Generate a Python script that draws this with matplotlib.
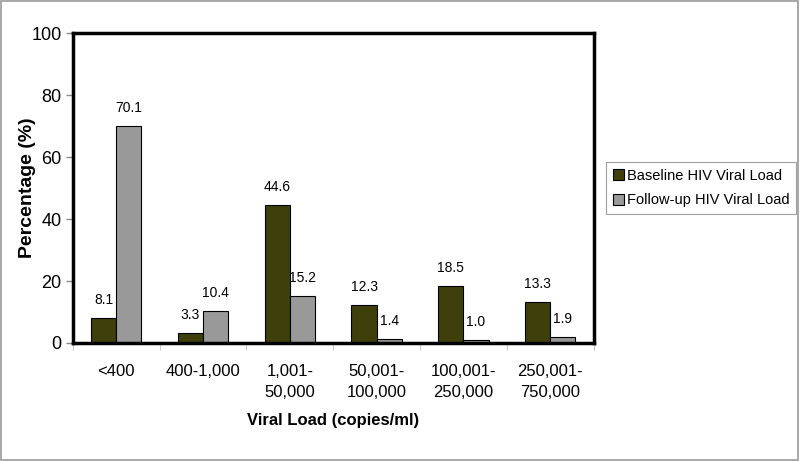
import matplotlib
matplotlib.use("Agg")
import matplotlib.pyplot as plt
import numpy as np

categories = ["<400", "400-1,000", "1,001-\n50,000", "50,001-\n100,000", "100,001-\n250,000", "250,001-\n750,000"]
baseline = [8.1, 3.3, 44.6, 12.3, 18.5, 13.3]
followup = [70.1, 10.4, 15.2, 1.4, 1.0, 1.9]
yticks = [0, 20, 40, 60, 80, 100]

plt.rcParams['font.family'] = ['Liberation Sans', 'DejaVu Sans']

fig = plt.figure(figsize=(8, 4.61), dpi=100)
ax = fig.add_axes([0.091, 0.256, 0.651, 0.672])

x = np.arange(len(categories))
w = 0.29
ax.bar(x - w/2, baseline, w, color="#3f3f0c", edgecolor="black", linewidth=0.8, label="Baseline HIV Viral Load")
ax.bar(x + w/2, followup, w, color="#999999", edgecolor="black", linewidth=0.8, label="Follow-up HIV Viral Load")

for xi, v in zip(x, baseline):
    ax.text(xi - w/2, v + 3.5, f"{v:.1f}", ha="center", va="bottom", fontsize=10)
for xi, v in zip(x, followup):
    ax.text(xi + w/2, v + 3.5, f"{v:.1f}", ha="center", va="bottom", fontsize=10)

ax.set_xlim(-0.5, len(categories) - 0.5)
ax.set_ylim(0, 100)
ax.set_yticks(yticks)
ax.set_yticklabels([str(t) for t in yticks], fontsize=13)
ax.set_xticks(x)
ax.set_xticklabels(categories, fontsize=12, linespacing=1.55)
ax.tick_params(axis="x", length=0, pad=15)
ax.set_xticks(np.arange(len(categories) + 1) - 0.5, minor=True)
ax.tick_params(axis="x", which="minor", length=5, color="#bbbbbb")
ax.tick_params(axis="y", length=5, width=1, color="#888888", pad=3)

for s in ax.spines.values():
    s.set_linewidth(2.5)
    s.set_color("black")

ax.set_ylabel("Percentage (%)", fontsize=14, fontweight="bold", labelpad=-3)
ax.set_xlabel("Viral Load (copies/ml)", fontsize=12, fontweight="bold", labelpad=9)

leg = ax.legend(loc="center left", bbox_to_anchor=(1.01, 0.5), fontsize=10.5, frameon=True,
                fancybox=False, edgecolor="#888888", handlelength=0.7, handleheight=0.8,
                handletextpad=0.2, borderpad=0.5, labelspacing=0.7)
leg.get_frame().set_linewidth(0.8)

fig.patches.append(plt.Rectangle((0.001, 0.002), 0.996, 0.995, transform=fig.transFigure,
                                 fill=False, edgecolor="#999999", linewidth=1.2))

fig.savefig("out.png", dpi=100)
